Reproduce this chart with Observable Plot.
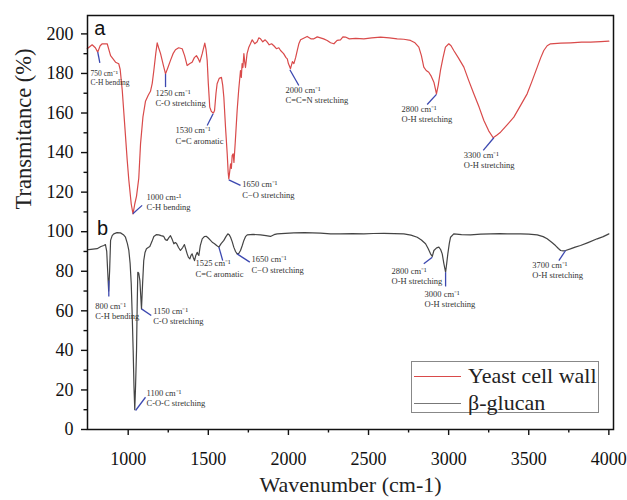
<!DOCTYPE html>
<html><head><meta charset="utf-8">
<script src="https://cdn.jsdelivr.net/npm/d3@7"></script>
<script src="https://cdn.jsdelivr.net/npm/@observablehq/plot@0.6"></script>
<style>
body{margin:0;background:#fff;}
#wrap{position:relative;width:627px;height:500px;font-family:"Liberation Serif","Times New Roman",serif;}
#wrap svg text{font-family:"Liberation Serif","Times New Roman",serif;}
#wrap svg text.panel{font-family:"Liberation Sans",Arial,sans-serif;}
#legend{position:absolute;left:411px;top:361px;width:188px;height:52px;border:1px solid #888;box-sizing:border-box;background:#fff;}
.lrow{position:absolute;left:0;height:0;}
.lline{position:absolute;left:2px;width:47px;height:0;border-top:1.3px solid;}
.ltext{position:absolute;left:56px;font-size:22px;line-height:22px;color:#222;white-space:nowrap;transform:translateY(-50%);}
</style></head><body><div id="wrap"></div><script>
// ---- data ----
const seriesNames = ["Yeast cell wall", "β-glucan"];
const seriesColors = ["#d94a4a", "#444444"];

const xA = [744,775,795,810,825,838,869,890,921,941,950,963,980,994,1004,1019,1030,1041,1052,1066,1077,1092,1108,1125,1139,1150,1160,1172,1181,1190,1202,1220,1233,1248,1264,1280,1295,1315,1337,1352,1368,1385,1399,1413,1426,1437,1447,1462,1478,1486,1493,1500,1509,1518,1524,1532,1539,1548,1555,1568,1582,1590,1597,1608,1618,1624,1628,1633,1639,1644,1649,1655,1660,1668,1680,1690,1701,1706,1711,1716,1722,1727,1732,1742,1753,1763,1774,1790,1805,1815,1826,1840,1855,1868,1880,1895,1909,1925,1940,1951,1970,1985,1993,2000,2013,2025,2034,2045,2055,2065,2076,2095,2117,2140,2159,2180,2200,2220,2242,2263,2284,2304,2325,2340,2356,2380,2420,2471,2520,2575,2630,2679,2720,2762,2790,2814,2830,2845,2860,2876,2892,2908,2918,2924,2935,2949,2965,2980,3001,3015,3032,3060,3095,3125,3157,3190,3220,3250,3278,3300,3324,3365,3407,3450,3490,3520,3553,3575,3594,3615,3636,3700,3761,3830,3886,3950,4000];
const yA = [192.5,194.5,193,190.8,194,195,195,189,185.7,184.9,182,171.4,152,136,126,114,109,114,118,127,144.4,158,166,169,171,175,181.5,190,195.5,193,190,184,179.8,183,186.6,190,192,193,192.5,189,184,185,185.7,188,189,187.5,185.7,190,195.3,192,186.6,175,163,161,160.4,160,161.3,170,174.8,177.5,178,174,168,152,139.4,130,126.7,130,134.3,132,138.5,139.4,135,145,161.3,172,181.5,178,185,183,190,186,183,190,193.3,195,197,195,196,198,197.5,196,197,195.8,194.5,195,194,192.5,193,191.6,190,188,187.4,185,182.4,186,185,188,191.6,195,197,197.8,198.7,197.5,197.5,198.5,198,197.5,196.7,195.5,195,196.7,197,198.5,198.4,197.5,197.7,197.5,198,198.4,198,197.5,197.3,196.7,195.5,193.3,189,183.2,181.5,180.6,178.5,175.6,172,169.7,174,181.5,188,193.3,195,194,191.6,188,183.2,176.5,169.7,163,156.2,151,147.5,148.8,150.3,154,157.9,164,169.7,176,183.2,188,191.6,194,195,195.3,195.5,195.8,195.8,196.1,196.3];

const xB = [746,754,780,806,830,848,858,866,872,878,884,890,900,910,930,952,970,983,995,1004,1012,1019,1025,1031,1036,1041,1046,1052,1056,1060,1066,1073,1078,1083,1090,1097,1105,1114,1125,1135,1148,1160,1175,1191,1205,1222,1232,1243,1254,1264,1275,1285,1294,1302,1314,1326,1340,1351,1360,1368,1376,1385,1392,1399,1406,1414,1422,1431,1436,1441,1450,1462,1475,1487,1500,1514,1527,1539,1552,1566,1580,1597,1610,1622,1630,1639,1649,1659,1670,1680,1690,1701,1712,1722,1732,1743,1780,1826,1860,1888,1910,1930,1980,2034,2100,2150,2200,2263,2325,2400,2471,2530,2596,2660,2720,2765,2804,2830,2856,2872,2887,2898,2908,2925,2939,2950,2960,2970,2981,2988,2995,3004,3012,3032,3080,3137,3200,3262,3320,3366,3449,3500,3553,3590,3615,3645,3667,3685,3699,3715,3730,3760,3790,3823,3870,3927,3965,4000];
const yB = [91,90.9,91.2,91.4,92.5,93,93.5,90,80,70,80,95.6,98,98.9,99.5,99.4,98.5,97.2,94,90.5,84,73.7,58,40,22,10,22,40,62,79.5,79,75.3,68,61,74,85.4,89.5,91.4,92,92.5,95,97.6,98.5,98.4,98,97.6,96,95.6,97,98,96,93.9,94.5,94,92,90.5,92,93.5,91,88.8,87,86.3,88,88.8,87,85.4,88,89.6,88.5,88,93,96.4,97.5,97.7,96.8,95.6,94.5,93.9,93,92.2,94,95.6,97.5,98.9,98.5,97.2,95,92.2,90,88.8,89,90.5,93,95.6,97.5,98.4,98.6,98.4,98,97.6,98.5,98.9,99.2,99.4,99.5,99.4,99.3,98.9,98.9,99,98.9,99.1,99.2,99,98.9,98.3,97.2,95.8,93.9,91.5,88.8,87.5,90.5,91.8,92.2,91,88.8,84,79.5,84,88.8,94,97.2,98.9,98.5,98.4,98.8,98.9,99,98.9,98.9,98.8,98.4,97.5,96.4,94.5,93,91.5,90.5,90.3,90.5,91.3,92.2,93,94.5,96.4,97.5,98.9];

// annotations
const annLabels = ["750 cm⁻¹\nC-H bending","1250 cm⁻¹\nC-O stretching","1530 cm⁻¹\nC=C aromatic","1650 cm⁻¹\nC−O stretching","1000 cm-¹\nC-H bending","2000 cm⁻¹\nC=C=N stretching","2800 cm⁻¹\nO-H stretching","3300 cm⁻¹\nO-H stretching","800 cm⁻¹\nC-H bending","1150 cm⁻¹\nC-O stretching","1100 cm⁻¹\nC-O-C stretching","1525 cm⁻¹\nC=C aromatic","1650 cm⁻¹\nC−O stretching","2800 cm⁻¹\nO-H stretching","3000 cm⁻¹\nO-H stretching","3700 cm⁻¹\nO-H stretching"];
const annPeakX = [810,1233,1530,1628,1029,2009,2924,3282,879,1083,1046,1566,1680,2898,2981,3730];
const annPeakY = [190.8,179.8,159.6,126.2,109.1,181.9,169.4,147.5,75.3,61,9.6,92.2,88.8,87.1,79.5,90.5];
const annEndX = [823,1233,1493,1701,1087,2065,2866,3216,879,1144,1108,1590,1759,2845,2981,3688];
const annEndY = [185.3,173.1,153.7,123.4,113.3,173.9,164.3,141.1,67.2,57.6,16.3,85.4,84.6,83.8,72.3,85.4];
const annTextX = [765,1170,1295,1712,1114,1982,2706,3095,794,1156,1114,1420,1770,2644,2850,3522];
const annTextY = [181.9,172.3,153.4,126.1,119.7,173.7,164.1,140.8,64.5,61.9,20.8,86.1,88.1,82.2,70.5,85.5];
const annSize = [7.5,8.5,8.5,8.5,8.5,8.5,8.5,8.5,8.5,8.5,8.5,8.5,8.5,8.5,8.5,8.5];

const panelLabels = ["a", "b"];
const panelX = [788, 806];
const panelY = [202.7, 101.5];

const xTicks = [1000,1500,2000,2500,3000,3500,4000];
const xMinor = [1250,1750,2250,2750,3250,3750];
const yTicks = [0,20,40,60,80,100,120,140,160,180,200];
const yMinor = [10,30,50,70,90,110,130,150,170,190];
const xTitle = "Wavenumber (cm-1)";
const yTitle = "Transmitance (%)";

// ---- build ----
const dataA = xA.map((x, i) => ({x, y: yA[i]}));
const dataB = xB.map((x, i) => ({x, y: yB[i]}));
const ann = annLabels.map((t, i) => ({t, px: annPeakX[i], py: annPeakY[i], ex: annEndX[i], ey: annEndY[i], tx: annTextX[i], ty: annTextY[i], fs: annSize[i]}));
const panels = panelLabels.map((t, i) => ({t, x: panelX[i], y: panelY[i]}));
const plain = d => String(d);

const chart = Plot.plot({
  width: 627, height: 500,
  marginLeft: 87, marginRight: 14, marginTop: 15, marginBottom: 71,
  style: {fontFamily: "'Liberation Serif','Times New Roman',serif", background: "#fff", color: "#111"},
  x: {domain: [746, 4029]},
  y: {domain: [0, 209.3]},
  marks: [
    Plot.axisX({ticks: xTicks, tickFormat: plain, tickSize: 6, tickPadding: 17, fontSize: 18, label: null, strokeWidth: 1.4}),
    Plot.axisX({ticks: xMinor, tickSize: 3.5, tickFormat: () => "", label: null, strokeWidth: 1.4}),
    Plot.axisY({ticks: yTicks, tickFormat: plain, tickSize: 6, tickPadding: 8, fontSize: 18, label: null, strokeWidth: 1.4}),
    Plot.axisY({ticks: yMinor, tickSize: 3.5, tickFormat: () => "", label: null, strokeWidth: 1.4}),
    Plot.line(dataA, {x: "x", y: "y", stroke: seriesColors[0], strokeWidth: 1.2}),
    Plot.line(dataB, {x: "x", y: "y", stroke: seriesColors[1], strokeWidth: 1.2}),
    Plot.link(ann, {x1: "px", y1: "py", x2: "ex", y2: "ey", stroke: "#3c48b0", strokeWidth: 1.3}),
    Plot.text(ann, {x: "tx", y: "ty", text: "t", fontSize: "fs", textAnchor: "start", lineAnchor: "top", lineHeight: 1.2, fill: "#333"}),
    Plot.text(panels, {x: "x", y: "y", text: "t", textAnchor: "start", fontSize: 20, className: "panel", fill: "#111"}),
    Plot.text([xTitle], {text: d => d, frameAnchor: "bottom", dy: 62, fontSize: 22, fill: "#222"}),
    Plot.text([yTitle], {text: d => d, frameAnchor: "left", rotate: -90, dx: -64, dy: -13, fontSize: 22.5, fill: "#222"}),
    Plot.frame({stroke: "#111", strokeWidth: 1.5})
  ]
});

const wrap = document.getElementById("wrap");
wrap.appendChild(chart);
// panel letters use a sans face
chart.querySelectorAll("g.panel text, text.panel").forEach(t => t.style.fontFamily = "'Liberation Sans',Arial,sans-serif");

// legend inside plot area
const legend = document.createElement("div");
legend.id = "legend";
const rowY = [14, 40.5];
seriesNames.forEach((name, i) => {
  const row = document.createElement("div");
  row.className = "lrow";
  row.style.top = rowY[i] + "px";
  const ln = document.createElement("div");
  ln.className = "lline";
  ln.style.borderTopColor = i === 0 ? seriesColors[0] : "#777";
  const tx = document.createElement("div");
  tx.className = "ltext";
  tx.textContent = name;
  row.appendChild(ln); row.appendChild(tx);
  legend.appendChild(row);
});
wrap.appendChild(legend);
</script></body></html>
